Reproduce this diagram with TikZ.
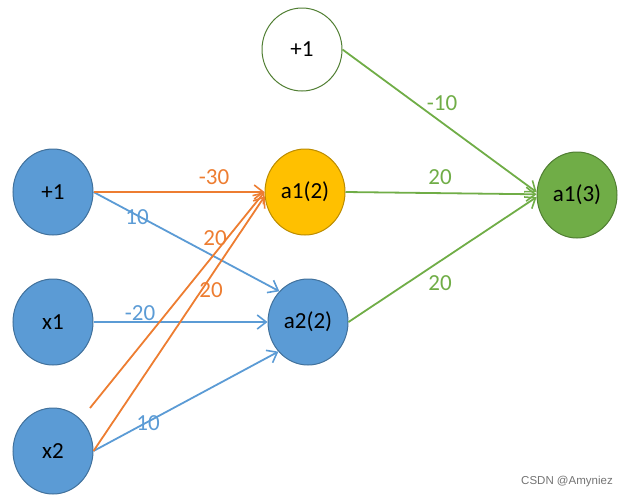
\documentclass[tikz,border=0pt]{standalone}
\usepackage{fontspec}
\setmainfont{Carlito}
\newfontfamily\wmfont{Liberation Sans}
\usetikzlibrary{shapes.geometric,arrows.meta}
\definecolor{bluefill}{HTML}{5B9BD5}
\definecolor{blueline}{HTML}{41719C}
\definecolor{goldfill}{HTML}{FFC000}
\definecolor{goldline}{HTML}{BC8C00}
\definecolor{greenfill}{HTML}{70AD47}
\definecolor{greenline}{HTML}{507E32}
\definecolor{orangeC}{HTML}{ED7D31}
\definecolor{blueC}{HTML}{5B9BD5}
\definecolor{greenC}{HTML}{70AD47}
\tikzset{
  neuron/.style={ellipse, minimum width=80pt, minimum height=86pt, inner sep=0pt,
    line width=1pt, font=\fontsize{23}{26}\selectfont, text=black},
  bluenode/.style={neuron, fill=bluefill, draw=blueline},
  goldnode/.style={neuron, fill=goldfill, draw=goldline},
  greennode/.style={neuron, fill=greenfill, draw=greenline},
  whitenode/.style={neuron, fill=white, draw=greenline, minimum height=83pt},
  conn/.style={line width=1.8pt, -{Straight Barb[length=9pt,width=14pt,line width=1.6pt]}},
  oconn/.style={conn, draw=orangeC},
  bconn/.style={conn, draw=blueC},
  gconn/.style={conn, draw=greenC},
  lbl/.style={font=\fontsize{23}{26}\selectfont, inner sep=0pt},
}
\begin{document}
\begin{tikzpicture}[x=1pt,y=-1pt]
\useasboundingbox (0,0) rectangle (629,499);
% nodes
\node[bluenode] (in1) at (53,192) {+1};
\node[bluenode] (x1) at (53,322) {x1};
\node[bluenode] (x2) at (53,451) {x2};
\node[whitenode] (top1) at (302,49.5) {+1};
\node[goldnode] (a12) at (305,192) {a1(2)};
\node[bluenode] (a22) at (308,322) {a2(2)};
\node[greennode] (a13) at (577,195) {a1(3)};
\coordinate (free) at (90,408);
% connectors
\draw[bconn] (in1.east) -- (a22.133);
\draw[bconn] (x1.east) -- (a22.west);
\draw[bconn] (x2.east) -- (a22.225);
\draw[oconn] (in1.east) -- (a12.west);
\draw[oconn] (free) -- (a12.180);
\draw[oconn] (x2.east) -- (a12.186);
\draw[gconn] (top1.east) -- (a13.176);
\draw[gconn] (a12.east) -- (a13.179);
\draw[gconn] (a22.east) -- (a13.183);
% labels
\node[lbl, text=orangeC] (l1) at (214,177) {-30};
\node[lbl, text=blueC] (l2) at (137,217) {10};
\node[lbl, text=orangeC] (l3) at (215,238) {20};
\node[lbl, text=orangeC] (l4) at (211,290) {20};
\node[lbl, text=blueC] (l5) at (140,313) {-20};
\node[lbl, text=blueC] (l6) at (148,423) {10};
\node[lbl, text=greenC] (l7) at (442,103) {-10};
\node[lbl, text=greenC] (l8) at (440,177) {20};
\node[lbl, text=greenC] (l9) at (440,283) {20};
\node[font=\wmfont\fontsize{11.5}{13}\selectfont, text=black!55, inner sep=0pt] (wm) at (567,482) {CSDN @Amyniez};
\end{tikzpicture}
\end{document}
